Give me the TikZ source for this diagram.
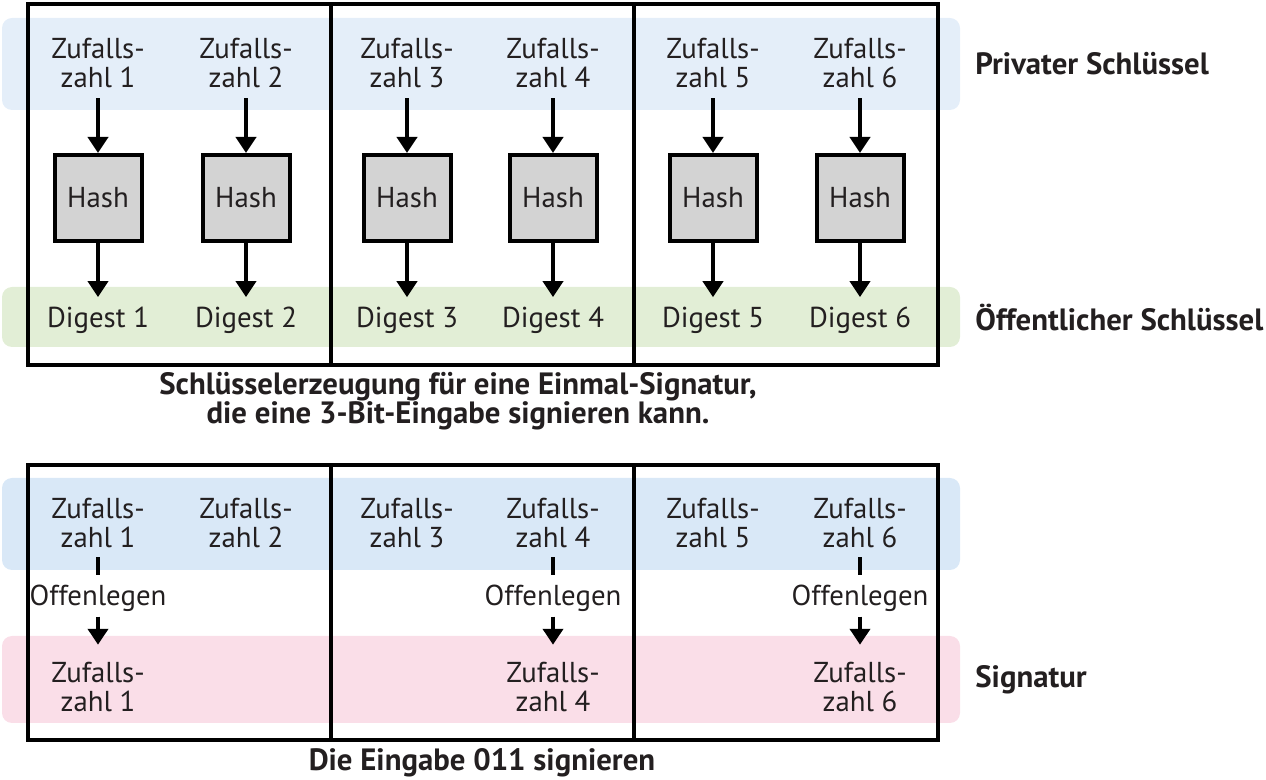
\documentclass[tikz,border=0pt]{standalone}
\usepackage{fontspec}
\setmainfont{PT Sans}
\usetikzlibrary{arrows.meta}
\definecolor{ink}{RGB}{35,31,32}
\definecolor{blueA}{RGB}{228,238,249}
\definecolor{blueB}{RGB}{217,232,247}
\definecolor{greenA}{RGB}{226,238,214}
\definecolor{pinkA}{RGB}{250,222,232}
\definecolor{hashgray}{RGB}{211,211,211}
\begin{document}
\begin{tikzpicture}[x=0.5pt,y=-0.5pt,
  txt/.style={font=\fontsize{14.4}{14.5}\selectfont, align=center, inner sep=0pt, text=ink},
  lbl/.style={font=\fontsize{15.4}{14.5}\selectfont\bfseries, align=center, inner sep=0pt, text=ink},
  hashbox/.style={draw=black, line width=2pt, fill=hashgray, minimum width=43.5pt, minimum height=43pt, inner sep=0pt, font=\fontsize{14.4}{14.5}\selectfont, text=ink},
  frame/.style={draw=black, line width=2pt},
  band/.style={rounded corners=5pt},
  arr/.style={draw=black, line width=2pt, -{Triangle[width=10pt,length=8pt]}},
  stub/.style={draw=black, line width=2pt}]
\useasboundingbox (0,0) rectangle (1266,780);
% bands
\fill[blueA, band] (2,18) rectangle (960,110);
\fill[greenA, band] (2,287) rectangle (960,347);
\fill[blueB, band] (2,478) rectangle (960,570);
\fill[pinkA, band] (2,636) rectangle (960,723);
% frames
\draw[frame] (28,4) rectangle (938,365);
\draw[frame] (331,4) -- (331,365);
\draw[frame] (634,4) -- (634,365);
\draw[frame] (28,465) rectangle (938,740);
\draw[frame] (331,465) -- (331,740);
\draw[frame] (634,465) -- (634,740);
% key generation
\foreach \i/\x in {1/98,2/246,3/407,4/553,5/713,6/860} {
  \node[txt] (z\i) at (\x,63) {Zufalls-\\zahl \i};
  \node[hashbox] (h\i) at (\x,198) {Hash};
  \node[txt, anchor=base] (d\i) at (\x,328) {Digest \i};
  \draw[arr, shorten <=5pt] (z\i) -- (h\i);
  \draw[arr, shorten >=5pt] (h\i) -- (d\i);
  \node[txt] (zb\i) at (\x,523) {Zufalls-\\zahl \i};
}
% signing
\foreach \i/\x in {1/98,4/553,6/860} {
  \node[txt] (o\i) at (\x,598) {Offenlegen};
  \node[txt] (s\i) at (\x,687) {Zufalls-\\zahl \i};
  \draw[stub, shorten <=4.5pt, shorten >=4.5pt] (zb\i) -- (o\i);
  \draw[arr, shorten <=2.5pt, shorten >=8.5pt] (o\i) -- (s\i);
}
% labels
\node[lbl, anchor=west] (priv) at (975,64) {Privater Schlüssel};
\node[lbl, anchor=west] (oeff) at (975,318) {Öffentlicher Schlüssel};
\node[lbl, anchor=west] (sig) at (975,680) {Signatur};
\node[lbl] (cap1) at (458,401) {Schlüsselerzeugung für eine Einmal-Signatur,\\die eine 3-Bit-Eingabe signieren kann.};
\node[lbl] (cap2) at (482,763) {Die Eingabe 011 signieren};
\end{tikzpicture}
\end{document}
